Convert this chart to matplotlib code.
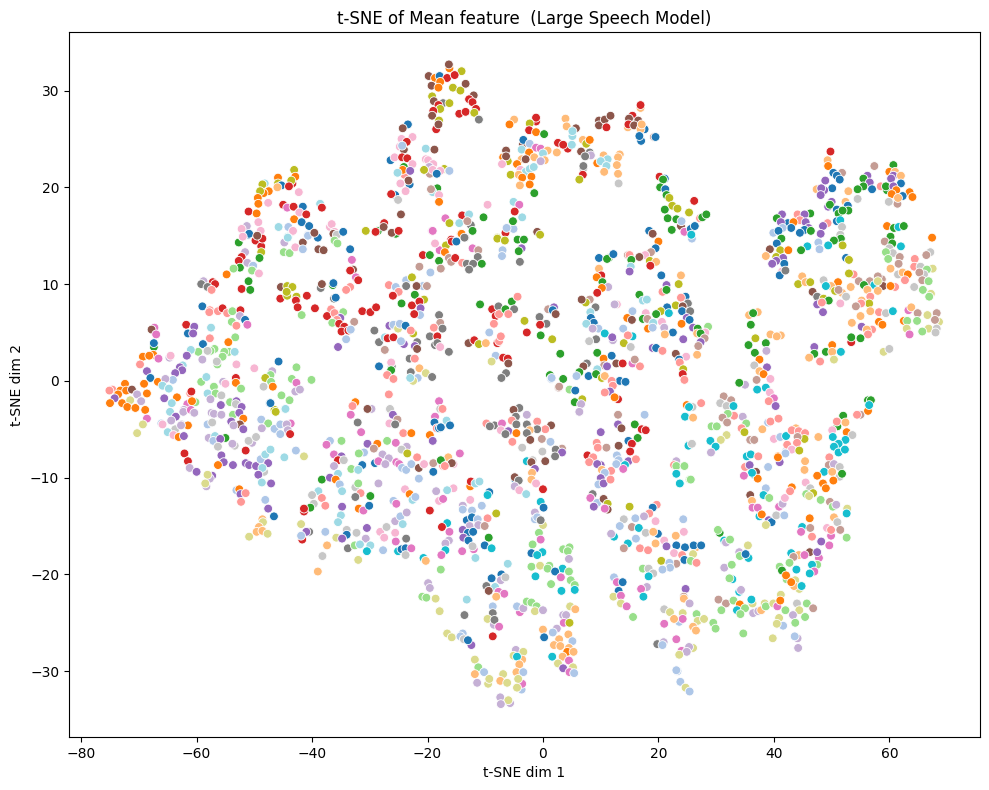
import numpy as np
import matplotlib
matplotlib.use("Agg")
import matplotlib.pyplot as plt

# each point: t-SNE dim 1, t-SNE dim 2, class index (tab20 order)
far_left = [
(-52.7,14.3,4),(-51.0,15.1,0),(-49.5,15.0,10),(-52,14.9,13),(-48.8,14.7,6),(-49.8,14.5,6),(-48.8,13.9,6),(-51.6,13.3,9),
(-48.8,13.3,16),(-52.2,12.8,6),(-52.7,12.4,6),(-49.1,12.7,4),(-51.2,12.2,9),(-50.2,11.9,1),(-52.5,11.7,4),(-53.6,11.6,5),
(-50.4,11.4,5),(-49.2,11.1,13),(-54.8,11.0,2),(-51,10.3,4),(-52.2,9.5,6),(-50.7,9.4,4),(-58.8,10.3,9),(-57.2,10.2,6),
(-56.8,10.0,6),(-59.2,10.0,14),(-58.1,9.7,14),(-57.4,9.4,7),(-59,7.7,0),(-57.7,7.3,7),(-57.8,7.1,7),(-56.3,7.2,7),
(-55.5,7.5,6),(-54.7,7.0,7),(-53.8,7.2,5),(-52.4,7.3,6),(-52.5,6.7,9),(-51.6,6.3,0),(-53.9,6.1,5),(-53.1,5.7,7),
(-51.2,5.8,12),(-57.5,5.5,19),(-61.8,5.8,6),(-60.4,5.6,8),(-61.5,4.9,0),(-60.6,4.9,8),(-67.3,5.5,12),(-67.8,5.3,10),
(-67,4.8,12),(-67.4,3.5,4),(-67.4,3.9,0),(-57.7,4.4,7),(-53.3,4.5,5),(-54.5,4.0,2),(-58.9,3.8,0),(-56.9,3.3,5),
(-57.6,3.1,5),(-58.1,3.1,15),(-59.7,3.0,5),(-61,3.2,19),(-61.7,2.6,8),(-59,2.2,9),(-54.4,3.0,5),(-55.2,3.0,5),
(-53.4,3,19),(-55.5,2.5,5),(-56.4,1.7,5),(-56.5,2.0,15),(-53.1,1.7,13),(-50,1.3,13),(-45.8,2.0,0),(-42.7,1.4,5),
(-67.5,2.7,2),(-69.3,2.5,2),(-68.2,2.6,2),(-66.6,2.3,12),(-64.7,2.4,9),(-64.5,2.6,13),(-69.8,1.7,7),(-68.6,1.0,8),
(-68,0.3,0),(-62.4,1.6,19),(-62.9,1.4,8),(-62.5,1.1,8),(-63.7,0.8,8),(-64.1,0.1,1),(-66.7,-0.1,2),(-65.4,0.2,9),
(-65.9,-0.5,19),(-64.8,-0.8,19),(-69.1,-0.3,2),(-72.4,-0.3,2),(-74.6,-0.9,7),(-75.1,-1,7),(-73.2,-1.0,2),(-72.2,-1,2),
(-71.2,-0.9,10),(-73.6,-1.4,2),(-74.2,-1.8,8),(-75,-2.3,2),(-72.9,-2.3,2),(-71.5,-2,17),(-72,-2.7,2),(-70.3,-1.4,9),
(-68.6,-1.3,2),(-70.6,-2.8,2),(-68.9,-3,2),(-69.6,-2.1,9),(-65.6,-1.8,8),(-63.4,-1.7,2),(-64.3,-2.3,19),(-61.1,-1.3,7),
(-60.9,-1.1,6),(-61.6,-2.4,12),(-60.2,-2.2,5),(-60.8,-2.1,2),(-62.2,-3,9),(-59.2,-0.1,5),(-58.3,0.4,19),(-57,-0.6,5),
(-55.4,-0.1,9),(-55,-0.3,13),(-53.2,0.3,6),(-53.2,-0.2,2),(-52.3,-0.8,5),(-58.1,-1.3,19),(-56.7,-1.3,5),(-55.7,-1.5,15),
(-57.6,-1.9,9),(-55.8,-2.5,8),(-54.2,-2.2,5),(-53.1,-2.1,8),(-53.2,-2.4,15),(-52.2,-2.7,8),(-46.9,1.0,9),(-47.2,0.6,5),
(-48.1,0.3,16),(-47.1,-0.1,5),(-48.4,-0.6,15),(-46.8,-0.6,2),(-43.5,0.2,5),(-42.7,-0.2,12),(-42.9,-1.1,9),(-42.1,-0.9,9),
(-45.3,-1.5,5),(-43.9,-2,5),(-47.3,-2.3,0),(-44.7,-2.9,19),(-46.5,-3,16),(-45.5,8.5,6),(-45.4,9.7,10),(-44.3,9.8,16),
(-43.4,9.7,16),(-44.3,8.8,16),(-44.4,9.2,16),(-42.7,8.7,16),(-42.8,8.3,6),(-42.5,7.6,6),(-40.9,8.8,6),(-41.8,6.8,5),
(-44.8,14.3,9),(-43.5,15.4,13),(-41.6,14.3,10),(-44.9,13.3,5),(-43.9,13.2,5),(-42.9,13.8,13),(-41.6,13.6,1),(-44.2,14.9,19),
(-40.7,15.1,1),(-68.6,-3.9,12),(-69.3,-4.5,17),(-70.3,-5.4,17),(-64.6,-3.2,19),(-63.6,-3.7,8),(-64.4,-4.1,9),(-66.1,-4.4,1),
(-65.9,-4.5,13),(-63.7,-5,15),(-62.6,-4.5,9),(-65,-5.3,19),(-64,-5.6,13),(-63.1,-5.8,2),
]

upper_mid = [
(-16.2,32.3,2),(-16.3,32.7,10),(-14.1,32.0,16),(-19.8,31.5,10),(-18.7,31.3,2),(-17.9,31.5,0),(-16.6,31.3,6),(-15.3,31.6,6),
(-17.8,30.9,2),(-19.3,30.5,10),(-18.1,30.3,2),(-15.6,30.3,16),(-14.3,30,16),(-13.4,30.7,10),(-19.2,29.4,16),(-12,29.5,10),
(-12.8,29.1,6),(-12.2,28.8,6),(-18.9,28.9,10),(-17.3,28.7,14),(-16.2,28.7,16),(-18.1,28.5,6),(-17.8,28.1,16),(-19,27.9,6),
(-11.6,28.1,6),(-14.5,27.6,6),(-13.4,27.8,6),(-11.9,27.7,16),(-19.2,27.4,10),(-11.1,27,14),(-18,26.9,16),(-18.5,26,6),
(-18.1,26.5,10),(-23.4,26.5,0),(-24.3,26.1,10),(-22.6,25.2,13),(-24.5,25,13),(-23.6,24.7,6),(-24.8,24.2,13),(-24.1,23.9,10),
(-24.4,24.3,1),(-26.4,22.8,0),(-25.7,23.1,13),(-24.4,23.1,6),(-23.5,23,6),(-22.6,22.4,13),(-24.1,22.1,4),(-24,21.3,7),
(-24.3,21.8,2),(-23,21.7,8),(-25.2,21.5,19),(-23.1,20.3,0),(-23.3,20.7,10),(-24.7,20.4,13),(-23.8,19.6,13),(-25.6,19.2,0),
(-26.3,19.3,6),(-25.1,18.7,15),(-24.6,17.2,10),(-20.3,24,19),(-18.8,23.9,10),(-20.3,22.9,13),(-19.9,22.8,13),(-19.6,21.4,11),
(-19,22.4,13),(-19.7,22.1,9),(-20.6,21.8,16),(-19.1,21.8,13),(-17.1,21.9,16),(-17.8,21.7,13),(-16.2,21.7,1),(-18.4,21.4,0),
(-18.3,19.9,4),(-19.1,19.5,19),(-19.4,19.8,11),(-18,19.2,13),(-18,18.5,2),(-9.6,18.2,13),(-10.3,16.9,4),(-14,17.1,6),
(-12.8,17.2,19),(-16.9,16.8,12),(-16.2,16.3,16),(-14.5,16.3,19),(-12.5,16.1,14),(-13.1,16.5,11),(-12.2,15.5,4),(-14.2,15.2,2),
(-19.2,15.5,12),(-7.9,14.8,16),(-15.9,14.6,6),(-13.5,14.8,14),(-30.7,15.5,16),(-28.6,15.5,4),(-29,15.4,6),(-27.5,16.3,6),
(-27.6,15.9,10),(-25.5,15.2,4),(-26.2,15.3,10),(-25,15.5,6),(-43.1,21.8,16),(-45.9,21,2),(-42.9,21.1,2),(-43.4,20.4,6),
(-43.6,20.7,16),(-45.9,20.4,16),(-45.3,20.2,0),(-46,20,3),(-44,20.1,6),(-48.2,20.4,19),(-48.6,20.3,16),(-47.5,19.6,2),
(-48.4,19.4,2),(-49,19.6,16),(-49.4,18.9,2),(-49.3,18.3,2),(-47.6,18.4,13),(-42.3,19.5,13),(-51,17.5,6),(-49.6,17.3,2),
(-45,18.2,6),(-44.3,17.9,12),(-43.2,18,6),(-41.6,18,0),(-38.6,18.3,19),(-38.3,17.9,6),(-42.2,17.4,13),(-41,17.2,6),
(-43.1,16.7,2),(-41.8,16.4,0),(-40.5,16,0),(-49.3,16.4,13),(-51.3,16,9),(-52.2,15.7,13),(-45.8,15.9,19),(-44.1,15.9,1),
(-43.3,15.5,13),(-48.9,15.5,13),(-50.9,15.2,0),(-48.6,14.7,6),(-49.5,15,10),(-52,14.9,13),(-44.2,14.8,19),(-40.7,15,1),
(-39,14.8,0),(-39.6,15.3,10),(-36.9,15.9,13),(-36.6,16.2,13),(-36.1,15.4,13),(-36.3,15.2,10),(-35.7,15.1,15),(-34.6,15.4,0),
]

center_up = [
(-38.9,13.6,10),(-38,13.5,10),(-36.1,14.5,5),(-35.6,14.2,5),(-33.4,13.6,0),(-33.1,12.5,12),(-32.9,11.5,10),(-33.4,11.4,6),
(-32.4,10.7,12),(-32,10.4,6),(-38.5,9.6,14),(-38.3,10,10),(-36.4,9.9,4),(-36.3,10.1,0),(-33.4,9.7,7),(-34.1,9.4,7),
(-36.2,8.5,14),(-35.9,8.6,0),(-39.5,7.5,6),(-36.7,7.4,7),(-37.4,6.7,6),(-34.6,7.1,5),(-31.3,7.2,6),(-29.9,7.1,6),
(-28.9,7.6,6),(-36.1,7.0,7),(-35.1,6.5,8),(-35.7,6.3,7),(-36.5,6,5),(-35.3,5.9,6),(-32.7,6.1,11),(-34.4,5.6,6),
(-34.9,5.1,6),(-33.7,5.2,6),(-33.3,5.3,1),(-34.1,4.3,1),(-35.5,3.5,8),(-40.1,0.1,5),(-29.2,5.2,14),(-28.4,4,14),
(-27.4,3.2,11),(-26.6,5.7,8),(-25.9,5.8,1),(-25.1,5.4,17),(-24.8,5.9,1),(-23.8,5.7,0),(-22.5,4.9,16),(-22.9,5.2,7),
(-27.4,4.5,19),(-26.9,4.4,6),(-25.9,4.5,6),(-24.1,3.8,8),(-24.6,4.1,1),(-21.8,4.0,14),(-22.2,3.6,8),(-21.8,3.3,10),
(-18,6.8,14),(-17.8,6,11),(-18.9,5.5,7),(-17.4,5.4,14),(-19.6,4.6,14),(-18.3,4.6,6),(-18.7,3.7,14),(-18.3,3.9,14),
(-17.8,3.5,13),(-16.3,3,14),(-23.1,2.3,14),(-22.2,2.3,7),(-28.4,1.5,0),(-26.2,1.5,14),(-26.3,1.9,13),(-26.3,1.1,4),
(-27,0.6,7),(-25.9,0.2,7),(-22.9,0.9,14),(-21.4,1.3,3),(-20.3,0.8,17),(-19.2,0.4,14),(-21.7,0.3,1),(-22.5,0,17),
(-23,0.3,19),(-26.7,-1.4,7),(-32.5,-2.2,2),(-33,-2.6,7),(-29.7,-2.9,9),(-30.4,-2.9,10),(-26.5,-3,15),(-18,-2.1,12),
(-17.8,-2.9,15),(-17.4,-2.9,7),(-4.1,-2.8,14),(-5.1,-3,10),(-26.7,9.9,7),(-25.5,9.7,1),(-23.7,10.4,1),(-22.7,10.7,16),
(-23.7,9.8,14),(-20.8,9.8,1),(-21.9,9.8,10),(-20.1,9.8,11),(-25,9.2,7),(-26,8.8,6),(-22.2,8.9,4),(-24.5,8,4),
(-22.7,7.8,6),(-20.6,8.4,16),(-21.4,8.2,6),(-21.2,7.5,8),(-21.3,6.8,1),(-22.3,6.9,6),(-21.4,11.8,11),(-19.5,11.2,1),
(-20.8,13,6),(-19.6,13,4),(-18,12.4,4),(-17.7,11.6,11),(-17.9,13.5,12),(-18.7,14.2,13),(-19.1,15.5,12),(-16.8,14,16),
(-17,13.3,2),(-16.3,12.7,11),(-15.9,12.3,11),(-15.2,12.7,6),(-15.8,14.4,6),(-15,14.4,0),(-14.1,15.2,2),(-13.6,14.8,14),
(-12.2,13.7,12),(-11.2,13.5,11),(-11.3,12.8,14),(-14,12.2,7),(-13.2,12.1,14),(-12.1,12.1,14),(-10.6,12.1,4),(-12.8,11.5,14),
(-6.2,15.8,1),(-5.1,15.7,1),(-6.5,15.3,6),(-7.9,14.7,16),(-6.6,14.5,16),(-4.4,14.6,4),(-3.3,14.6,4),(-3.7,13.7,8),
(-4.2,13.4,4),(-7,13.5,1),(-7.1,12.9,1),(-4,12.3,14),(-1,15.4,10),(-0.5,15.1,16),(-10.9,7.9,4),(-8.8,7.4,6),
(-7.7,7.7,14),(-8.2,6.7,6),(-7.6,6.9,7),(-6.5,7.4,4),(-5.4,8.2,4),(-4.4,8.7,7),(-5,7.4,14),(-6,6.9,7),
(-8.5,5.9,7),(-9.3,5,1),(-7.9,3.9,6),(-7.6,4.1,7),(-7.3,4.6,7),(-12.9,3.9,10),(-11.9,4.2,6),(-11.1,3.8,16),
(-9.9,3.9,3),(-8.2,2.6,1),(-6.9,2.4,6),(-8.9,2,17),(-6.1,2.3,6),(-6,1.8,10),(-6.4,0.8,14),(-7.2,0.3,14),
(-3.2,6.2,16),(-2.8,5,6),(-0.6,6.6,14),(0.6,5.9,14),(-0.5,5.8,6),(-0.4,4.7,4),(1.6,4.3,16),(0.9,7.4,11),
(1.9,7.6,8),(1.7,7.3,0),(2.2,6.9,10),(1.2,0.6,4),(1.4,0.2,1),(2.7,-0.7,11),(3.0,2.8,4),
]

lower_left = [
(-62.3,-3.2,9),(-61,-3,12),(-60.4,-3.3,9),(-61.5,-4.6,2),(-62.7,-4.6,9),(-62.2,-5.7,8),(-57.4,-3.3,9),(-57,-3.4,9),
(-55.7,-3.5,9),(-53.7,-3.5,5),(-52.6,-3.3,8),(-51.9,-3.9,2),(-54,-4.2,8),(-58.1,-4.5,1),(-57.3,-4.3,15),(-52.5,-4.5,10),
(-53.6,-4.6,9),(-51.9,-5,8),(-48.8,-4,1),(-47.6,-4.4,5),(-48.7,-4.9,9),(-46.5,-4.96,1),(-45.5,-4.5,1),(-43.7,-4.4,12),
(-44.4,-4.5,9),(-44.2,-5.1,9),(-43.8,-5.5,6),(-45.5,-5.5,1),(-47.2,-2.3,0),(-46.3,-3.2,16),(-44.6,-2.9,19),(-57.9,-5.9,9),
(-56.8,-5.7,19),(-57.1,-6.2,1),(-55,-5.9,4),(-55.9,-6,8),(-56.3,-6.8,15),(-53.4,-6.7,15),(-53.8,-6.5,9),(-50.4,-6.4,9),
(-51,-6.2,15),(-49.7,-5.8,15),(-51.5,-7.2,6),(-62.1,-7.5,6),(-61.5,-8.3,6),(-61.2,-9,9),(-60,-9.4,8),(-55.7,-7.7,8),
(-55.3,-8.4,8),(-56.3,-8.7,2),(-53.7,-8.7,8),(-51.5,-8.5,8),(-50.9,-8.7,8),(-49.7,-8.8,8),(-48.9,-8.1,1),(-48.1,-7.6,19),
(-47.2,-7.1,19),(-47.6,-8.5,8),(-48.3,-9.4,15),(-48.6,-9,19),(-49.3,-9.7,8),(-48.7,-10.5,19),(-47.1,-10.6,8),(-44.8,-7.9,19),
(-42.8,-7.2,1),(-41.4,-7.8,17),(-57.3,-9.8,8),(-57.7,-10.1,9),(-58.1,-9.7,17),(-58.3,-10.9,9),(-58.5,-10.6,17),(-53.1,-11.3,1),
(-52.6,-11.2,2),(-52.4,-11.7,8),(-51.5,-11.6,7),(-52.3,-12.5,7),(-48.1,-12.3,1),(-47.6,-13.2,8),(-46.6,-14,0),(-48.6,-14.3,3),
(-48.5,-14.6,17),(-49.2,-15.1,3),(-49.6,-15.6,3),(-48.6,-15.5,3),(-47.7,-15.8,17),(-50.9,-16.1,17),(-33.3,-3.5,12),(-32.1,-4.3,14),
(-31.5,-5.3,12),(-26.5,-2.9,15),(-26,-3.5,8),(-25.2,-4,11),(-26.6,-4.4,13),(-25.6,-4.5,14),(-24.2,-5.4,7),(-22.8,-5.4,2),
(-36.9,-6.2,1),(-37.5,-6.6,12),(-34.9,-6.2,5),(-30.4,-6.5,8),(-28.7,-6.5,2),(-27,-6.2,5),(-29.3,-7,11),(-25.5,-6.4,12),
(-23.6,-6.8,9),(-24.5,-7.1,15),(-23.5,-7.5,16),(-31,-7.4,1),(-31.9,-7.5,5),(-36.2,-7.6,12),(-34.9,-7.8,8),(-35.5,-8.2,6),
(-34.5,-8.2,15),(-36.2,-8.8,9),(-31.3,-8.7,0),(-33.2,-9.1,5),(-32,-9.2,19),(-35.5,-9.6,19),(-38.3,-10.2,4),(-36.9,-10,8),
(-35.9,-10.2,2),(-35.2,-10.7,1),(-32.5,-11,15),(-32,-10.6,5),(-34.8,-11.4,19),(-28.5,-10.6,9),(-38.9,-11.4,19),(-40,-11.8,15),
(-31.6,-11.6,7),(-32.5,-12,14),(-29.9,-11.9,4),(-38.3,-12.1,7),(-39.7,-12.7,15),(-37.7,-12.9,7),(-40.3,-13.1,4),(-41.4,-13.5,6),
(-41.4,-13.2,6),(-34.8,-13,8),(-31.9,-13.2,2),(-31.1,-13.4,12),(-30.1,-12.9,0),(-35,-13.9,19),(-35.5,-14.6,19),(-41.9,-14.8,17),
(-40.5,-15.6,14),(-41,-15.6,8),(-41.7,-16.4,6),(-41.9,-16,1),(-37.7,-15.6,1),(-37.4,-17,3),(-38.2,-18.1,15),(-39,-19.7,3),
(-34,-15.4,15),(-35.8,-16.2,17),(-34,-15.9,0),(-34.8,-16.3,8),(-32.3,-15.7,15),(-30.5,-15.2,8),(-30.7,-16.3,9),(-33.8,-17.3,14),
(-32.6,-17,5),(-31.7,-16.9,19),(-29.9,-17,19),(-30.5,-17.6,18),(-32,-18.5,17),(-28.2,-15.6,13),(-27.5,-16.2,13),(-27.7,-17.5,1),
(-27.1,-15.1,15),(-25.6,-14.5,9),(-24.7,-14,1),(-23.6,-13.6,9),(-24.3,-14.8,19),(-25.6,-15.7,13),(-25.5,-16.6,12),(-23.7,-16.3,14),
(-25.1,-17.6,18),(-24.5,-17.4,0),(-23.8,-17.3,0),(-22.8,-17.3,12),(-23.8,-18,15),(-29.1,-8.5,0),(-27.8,-7.6,9),(-26.7,-8,9),
(-28.5,-8.3,12),(-27.3,-8.6,9),(-25.4,-8.4,12),(-24.9,-8.6,12),(-24.4,-9,1),(-23.7,-9.2,1),(-22.8,-8.6,1),(-21.8,-7.9,7),
(-21.5,-9,10),(-21.5,-10.1,1),(-23.9,-11.2,13),(-23.1,-11.7,2),(-22.6,-12.3,19),(-22.1,-12,1),(-25.9,-12.4,1),(-25.4,-12.7,12),
(-18.7,-3.7,12),(-18.8,-4.3,0),(-18.4,-4.9,7),(-18,-4.9,0),(-19.6,-5.6,2),(-19.1,-6.2,8),(-19,-8.5,11),(-19,-9.4,0),
(-17.3,-8.8,7),(-20.6,-8.6,13),(-18.5,-11.4,9),(-18,-12.4,13),(-19.6,-13.4,6),(-20.7,-18.3,18),(-20.3,-18.6,3),
]

lower_mid = [
(-16.7,-4.1,19),(-16.1,-4.6,0),(-17.7,-4.8,0),(-2.8,-3.5,9),(-4.7,-3.7,14),(-5.4,-4.1,7),(-9.8,-4.4,7),(-8.4,-4.6,14),
(-9.2,-4.7,14),(-7.1,-4.4,12),(-4.6,-4.5,14),(-2.8,-4.5,14),(-1,-4.2,7),(1.4,-4.6,10),(0.4,-5,7),(-1,-5,14),
(-7.3,-5.1,13),(-6,-5.2,8),(-6.5,-5.5,14),(-4.6,-5.4,2),(-2.3,-5.1,3),(-2.8,-5.4,14),(-5.3,-6.3,7),(-2.2,-6.1,10),
(-0.2,-6,11),(1.3,-6.3,1),(-3.6,-6.9,15),(-0.1,-7.3,15),(3.3,-7,11),(2.2,-7.1,14),(3.3,-7.4,8),(2.1,-7.8,14),
(0.4,-8.3,10),(-2.8,-8.3,18),(-1.8,-8.2,15),(-2,-8.4,10),(-1.4,-9.1,8),(-1.9,-9.5,3),(-2,-10.2,3),(-4.8,-10.2,0),
(-4.9,-9.95,10),(-4.2,-10.3,14),(-4.9,-10.9,9),(-4.1,-11.3,13),(-1.2,-10.6,13),(-2.9,-11.7,19),(0,-11.2,6),(-0.4,-12.5,18),
(0.1,-13.1,0),(-1.4,-13.6,9),(-1.4,-14.3,1),(-1,-14.1,1),(0,-14.9,17),(-0.4,-14.4,14),(-0.7,-15.7,5),(-0.4,-16.4,12),
(-1.8,-16.9,5),(-2,-17.8,0),(-0.1,-17.7,18),(-1,-18,18),(-14.4,-7.5,12),(-16.4,-7.9,3),(-17.7,-8.2,4),(-15.5,-8.6,13),
(-15.8,-8.5,10),(-17,-8.8,7),(-12.6,-10.9,2),(-12.5,-10.4,6),(-11.7,-10.6,19),(-11,-10.4,19),(-9.3,-11.5,0),(-9.6,-11.8,18),
(-15.5,-11.1,13),(-16.6,-11.3,19),(-17.3,-12.2,12),(-12.6,-12.3,13),(-13.9,-12.9,9),(-13.9,-13.3,1),(-10.6,-12.9,1),(-12.3,-13.4,1),
(-8.1,-13.7,16),(-13.2,-14.4,0),(-12.3,-14.1,0),(-11.3,-14.3,1),(-9.6,-14.2,7),(-12.7,-15,9),(-11.2,-14.9,9),(-10.1,-15,11),
(-13.9,-15.4,8),(-13,-15.7,0),(-12.1,-15.6,0),(-13.8,-16.2,8),(-12.9,-16.5,0),(-9.4,-16.2,4),(-10.1,-17,0),(-8.9,-17.3,18),
(-12,-17.4,12),(-12.2,-17.1,15),(-14,-17.6,12),(-11.7,-18.3,19),(-16.6,-14.7,18),(-17.5,-15.1,6),(-16.2,-15.6,12),(-16.3,-16.5,9),
(-16.9,-16.8,9),(-16.9,-17.5,18),(-17.6,-18,12),(-17.7,-19.5,5),(-6.1,-18.9,19),(-7.2,-20,0),(-8.9,-20.4,0),(-7.3,-20.6,9),
(-6.5,-20.3,15),(-9.8,-21.2,14),(-8.3,-21.3,19),(-9.4,-21.7,10),(-7.7,-21.8,12),(-6.7,-22,12),(-8.1,-22.3,3),(-13.2,-22.6,19),
(3.5,-17.4,5),(4.6,-17.2,5),(4.3,-17.6,5),(4.5,-18.4,9),(-2,-19.2,5),(-0.5,-19.1,17),(1.1,-19.1,5),(0.8,-19.4,5),
(3.4,-19.4,18),(2.1,-19.7,0),(4.5,-19.7,5),(3.1,-20.3,12),(-1.3,-20.2,18),(1.4,-21,5),(4.8,-20.6,5),(5.5,-21.1,5),
(3.2,-21.7,18),(5.5,-21.6,18),(13,-3.5,11),(17.6,-3.5,1),(5.5,-2.2,4),(6.6,-2.4,9),(6.3,-3.2,9),(10,-5.3,8),
(13,-4.5,8),(13.6,-4.9,10),(15.9,-4.5,4),(17.1,-5,6),(17.8,-5.1,6),(16.4,-5.9,4),(14.8,-6.2,0),(15.4,-6.5,6),
(15.1,-7.3,6),(13.1,-6.7,10),(9.3,-6.4,7),(9.5,-6.9,7),(11,-6.9,11),(7.7,-7.7,6),(8.7,-7.9,7),(8,-8.4,7),
(12.8,-7.7,1),(13.1,-8.2,1),(14.8,-8.3,8),(16.1,-8.1,7),(12.7,-8.6,1),(10,-8.7,8),(9.4,-8.6,8),(14.2,-8.7,18),
(13.9,-9.1,12),(11.8,-9.3,7),(10.2,-9.2,3),(10.7,-9.5,1),(10,-10.05,8),(9.6,-10.7,1),(10.5,-10.6,8),(11.7,-10.2,7),
(8.6,-11.7,14),(8.2,-12.1,12),(9.4,-12.6,1),(8.8,-13,8),(10.5,-12.2,10),(11.2,-12.7,16),(11.2,-13.3,10),(10.7,-13.2,12),
(15,-13,16),(14,-14.3,15),(19.7,-12.8,7),(19,-13.1,0),(18.4,-13.7,7),(17.5,-14,9),(16,-14.2,1),(19.5,-14.5,13),
(13.3,-15,1),(15.4,-15.1,11),(16.6,-15.2,18),(17.8,-15.7,15),(19.9,-15.8,0),(19.1,-15.6,3),(24.3,-14.3,1),(24.4,-15.6,13),
(23,-16,3),(12.3,-16.1,18),(11.8,-15.8,9),(16.1,-16.3,1),(21,-16.5,13),(19.5,-16.8,3),(21.4,-17.1,8),(23.1,-17,0),
(24.6,-17.2,0),(14.7,-16.8,18),(14,-17.3,11),(16.8,-17.3,7),(18.2,-17.5,7),(22.7,-17.8,13),(24.1,-18,7),(20.5,-18.6,16),
(24.5,-18.5,0),(23.1,-18.9,11),(21.9,-18.8,1),(22,-19.3,1),(20.7,-19.5,1),(17.3,-19.4,5),(18.3,-19.4,15),(19.1,-19.9,15),
(18.3,-20.2,18),(18,-21.3,9),(17,-21.5,12),(17.4,-22.3,18),(12.3,-20.3,1),(12.8,-20.8,12),(13.8,-20.8,0),(13.1,-21.7,0),
(12.2,-22.3,17),(24.7,-21.5,8),(24.4,-22.3,11),(23.1,-8.3,9),(22.7,-8.7,7),(23.1,-8.8,5),(24.5,-8.8,5),(23.1,-9.6,18),
(23.7,-10.6,18),(25.4,-10.2,5),(24.7,-3.7,18),(25.2,-6.6,15),
]

bottom = [
(-19.9,-20.9,9),(-19.6,-21.4,9),(-20.9,-22.3,5),(-20.2,-22.4,5),(-18.6,-22.5,17),(-17.9,-23.8,17),(-13.6,-24.2,14),(-8.7,-23.3,1),
(-8.7,-24,14),(-9.6,-24.6,17),(-8.5,-25.2,9),(-8.4,-24.7,14),(-7.6,-25.4,12),(-8.7,-26.4,6),(-16.6,-26.1,17),(-15.8,-26.5,17),
(-13.9,-26.1,1),(-14.3,-26.4,1),(-13.7,-26.7,15),(-12.4,-27.3,8),(-13,-26.8,0),(-4.7,-27.8,9),(-3.4,-28,17),(-5.1,-28.4,17),
(-3.6,-28.8,3),(-4.5,-28.5,18),(-4.1,-29.3,3),(-11.8,-28.8,17),(-11.2,-29.6,5),(-11.8,-30.3,3),(-10.2,-30.1,1),(-11.4,-31.2,9),
(-9.5,-31.3,17),(-9.3,-30.8,17),(-6.9,-30.3,17),(-7.4,-31,3),(-6.2,-31.2,17),(-4.6,-30.1,3),(-3.4,-30.1,1),(-3.7,-31.9,1),
(-3.6,-31.3,12),(-4.3,-30.8,17),(-4.5,-31.7,17),(-7.4,-32.7,9),(-5.7,-33.3,9),(-6,-33,17),(-7.3,-33.4,9),(-4,-23.9,12),
(-4.5,-23.3,1),(-3.4,-23.5,9),(-2.8,-22.8,5),(-2,-22.9,5),(-1.1,-23.3,5),(-1.4,-23.8,17),(-0,-23.7,9),(4.7,-23.3,17),
(5.6,-23.6,3),(3.5,-24.2,9),(4,-24.2,9),(3.6,-25,12),(4.6,-25,16),(0,-25.7,3),(2.4,-25.6,9),(1.7,-26,1),
(0.2,-26.5,0),(4.4,-26.2,3),(2.8,-26.7,3),(5.1,-26.9,1),(1.9,-27.3,3),(3,-27.4,3),(4.5,-27.6,3),(4.2,-28,2),
(5.3,-28,3),(3.4,-28.5,3),(1.6,-28.5,18),(4.5,-28.9,12),(2.6,-29.2,17),(3.5,-29.7,8),(5.2,-29.6,17),(4.6,-30.1,12),
(5.4,-30.2,1),(13.5,-22.2,12),(13.5,-23,17),(14.5,-23.3,12),(15.6,-24.4,5),(24.4,-22.5,3),(25.4,-23,9),(21,-23.6,15),
(22,-23.9,17),(24.2,-24,17),(23.6,-24.9,1),(24.2,-24.6,12),(22.7,-24.6,3),(21,-25.1,12),(26.6,-24.1,5),(26.8,-24.8,17),
(27.9,-24.6,17),(26,-25.4,3),(26.5,-25.8,3),(23.1,-26.7,12),(19.8,-27.2,14),(20.9,-27,9),(20.7,-27.3,1),(26,-27.6,17),
(25.3,-27.5,9),(24,-27.9,12),(24.9,-28,9),(23.6,-28.3,17),(23.3,-30,1),(23.1,-29.9,1),(23.8,-31.1,1),(24.7,-31.7,17),
(25.4,-32.1,1),(29.5,-25,5),(29.9,-25.6,5),
]

upper_right_mid = [
(16.9,28.2,3),(16.9,28.5,6),(-5,27.0,3),(-5.8,26.5,2),(-1.2,26.8,6),(-1.2,27.2,6),(-2.3,26.6,16),(-2.4,25.9,6),
(-1.2,25.7,2),(0.2,25.5,4),(-3.5,24.4,10),(-3.4,24.9,0),(-2.3,24.5,1),(-1.2,24.1,12),(-0.4,24,12),(0.8,23.8,3),
(-3.7,23.9,19),(-2.4,23.6,2),(0,23.5,19),(2.4,23.6,3),(-6.4,23.8,10),(-6.9,23.1,2),(-6.1,22.7,16),(-6.4,23.2,10),
(-7.1,22.4,13),(-3.7,22.9,3),(-3,22.9,10),(-1.5,23.1,3),(0.3,22.8,3),(-0.4,22.7,9),(-4.5,22.4,2),(-3.9,21.8,13),
(-3,21.6,19),(-2.3,21.9,19),(-1.6,22.1,19),(-5.6,21.3,16),(-4.2,21.3,3),(-3.6,21,2),(-2,21.1,2),(-4,20.2,3),
(-2.3,20.3,2),(-1.5,19.4,4),(3.9,27.1,3),(4.1,26.3,3),(5.7,26.1,10),(5.1,25.3,19),(5.1,25.8,19),(2.6,24.6,6),
(4.3,24,6),(3.5,24.4,6),(5,24.4,19),(6.9,24.9,3),(7.5,24.5,16),(8.1,24.9,2),(6.6,23.7,10),(8.1,23.6,14),
(8.3,23.3,9),(7.3,23.2,14),(10.5,23.3,3),(11.2,22.9,19),(9.4,22.5,2),(10,22.7,19),(11,22.2,19),(7,22,14),
(7,22.2,14),(6.9,21.3,6),(6.3,20.8,16),(10.6,21.6,3),(13.3,23.4,3),(13,23.1,3),(12.8,22.3,3),(13,21.4,3),
(13.1,20.4,15),(9.7,26.9,10),(9.7,26.4,10),(10.7,27,10),(11.7,27.4,10),(11,26.2,6),(15.5,27.4,6),(14.9,27.1,10),
(16.5,26.9,10),(14.7,26.2,3),(14.8,26.5,6),(15.8,26.4,10),(17.6,26,0),(16.9,26,3),(17.1,26.5,3),(17,24.8,0),
(16.7,25.3,0),(19.2,25.2,11),(19.5,25.2,0),(20.2,21.1,6),(21.1,20.9,0),(20.8,20.8,4),(20.3,20,4),(21.2,19.8,0),
(21.4,19.2,4),(21.9,18.9,16),(22.4,18.1,16),(23.3,17.8,16),(21.1,17.7,4),(25.3,17.4,16),(26.2,18.6,6),(21.6,16.8,4),
(23.1,16.7,4),(23.9,16,10),(24,16.5,1),(22.3,15.6,4),(24.5,15.4,12),(25.6,15.7,0),(26.3,16,0),(25.8,14.7,1),
(25.7,15.1,18),(27.2,16.8,7),(27.6,16.9,4),(28.3,17.2,4),(-5.1,18.5,19),(-4.1,18.2,12),(-4.9,17.5,6),(-3.6,16.9,19),
(-5.2,16.5,4),(-6.3,15.8,1),(18.4,15.5,0),(19,15.2,10),(20,14.4,2),(19.5,13.7,0),(18.5,13.2,9),(18.7,13.3,11),
(17.7,13,13),(16.7,12.8,10),(14.7,13,11),(15,13,7),(15.3,12.5,4),(15.2,11.8,19),(15,11.3,8),(18.5,12.4,16),
(19.6,12.3,3),(18.6,11.9,6),(9.7,12.7,0),(11.4,12.7,4),(11.1,12.6,4),(12.2,13.1,0),(9.7,11.6,3),(10.1,10.9,6),
(9.3,10.7,2),(20.5,10.9,0),(23.9,10.9,3),(10.3,10.2,4),(11.3,9.7,9),(10.2,9.6,2),(9.4,9.1,6),(8.1,8.4,11),
(7.4,8.1,16),(6.7,8.4,10),(9.1,7.6,14),(12.8,7.9,13),(12.4,7.9,9),(8.2,7.1,19),(8.3,6.5,0),(8.8,6,0),
(7.5,5.9,19),(9.6,5.4,1),(8.6,5.4,9),(10.7,4.9,18),(12.1,4.2,9),(12,4.5,8),(9.2,4.3,14),(8,4.1,15),
]

mid_right = [
(9.4,2.9,4),(10.5,2.3,2),(11.9,2.6,0),(7.6,1.8,14),(7,1.5,10),(10.6,1.6,11),(11.1,1.5,8),(12.7,1.8,10),
(13.8,1.8,6),(15.5,1.8,12),(15.9,2.2,11),(16.8,1.5,7),(9.4,1.2,19),(6.3,0.9,4),(5.8,0.5,1),(7.9,0.5,0),
(9.2,0.7,4),(10.2,0.3,16),(10.7,0.5,3),(1.5,0.3,1),(3.5,0.2,4),(2.8,-0.6,11),(4.6,-0.9,5),(5.6,-1,0),
(6.8,-1.9,16),(5.5,-2.2,4),(6.6,-2.4,9),(6.3,-3.2,9),(13.3,0,0),(14.3,-0.1,0),(11.9,0,7),(12.1,-0.5,7),
(11.6,-1.1,8),(10.7,-1.2,7),(13,-1.9,6),(12.4,-1.7,2),(16.7,8.9,4),(17.3,8.3,19),(18,8.4,19),(23.5,10,16),
(21.4,9.9,8),(20.7,9.2,7),(21.4,9.4,4),(24.7,8.7,0),(23.9,8.6,7),(23,7.8,16),(21.5,7.6,0),(25.1,8,14),
(24.2,7.7,10),(24.1,7.2,0),(25.5,7.2,14),(20.4,7.2,16),(19.6,6.9,4),(21.8,7,18),(17.8,7,13),(15.5,7.2,1),
(14.6,6.5,2),(15.4,6.3,10),(17.3,6.4,4),(18.1,6.4,11),(20.6,6.1,13),(19.1,6,19),(24.9,6.5,8),(25.4,6.3,0),
(21,5.5,9),(18.2,5.4,2),(19,5.5,1),(13.9,5.4,1),(24,5.9,2),(22.5,5,0),(21.1,4.8,3),(15.5,4.6,18),
(14.7,4.7,7),(14,3.9,16),(15.2,3.5,15),(19,3.4,8),(19.6,3.4,0),(20.7,3.1,7),(24.3,4.3,8),(26,5.5,8),
(26.8,5.4,4),(28.6,5.6,5),(28.1,5,13),(26.7,4.9,3),(27.3,4.9,4),(28,4.4,11),(27.3,4,8),(26.9,3.6,11),
(26.7,2.7,3),(23,2.8,10),(24.8,2.5,13),(23.6,2.2,0),(23.7,1.9,7),(24.3,1.2,16),(24.2,0.7,6),(24.5,0.1,7),
(35.7,6.8,3),(37.2,7.1,3),(36.4,7,4),(36,5.8,4),(39.4,4.8,3),(41.2,4.7,3),(40.5,4.6,3),(36.8,4.4,16),
(35.6,3.7,4),(38.6,3.9,4),(38.7,3.1,9),(36.7,2.9,4),(37.5,2.2,2),(36.6,1.6,15),(38.8,1.4,8),(37.5,1,3),
(38.2,0.7,2),(39.4,0.2,13),(37,0.1,11),(35,-0.4,9),(34,-0.2,4),(38.6,-0.7,18),(37.1,-0.9,18),(39.3,-1.2,13),
(40,-1.8,12),(39.1,-2.1,7),(40.3,-2.6,8),(27.4,-2.3,7),(24.9,-2.5,2),(25.9,-2.7,15),(25.3,-2.7,18),(24.6,-3.7,18),
(26,-3.8,3),(31.3,-1.6,11),(32.6,-2,11),(30.7,-2.3,15),(31.8,-2.6,15),(33,-2.6,18),(33.1,-3.6,7),(32,-3.4,5),
(31.1,-3.8,11),(34.6,-3.7,9),(31.9,-4.3,11),(35.2,-4.4,5),(29.2,-4.7,5),(30.1,-4.7,5),(34.4,-4.9,7),(34.9,-5.3,16),
(38,-5,3),(39,-4.3,1),(39.4,-4.2,7),(40.8,-3.9,7),(40,-6,13),(41.1,-5.8,1),(42.1,-5.7,18),(29,-6.2,18),
(31.8,-5.6,17),(30.8,-6.1,17),(29.9,-6.8,18),(29.1,-7.4,9),(35.9,-6.1,11),(36.6,-6.1,11),(25.2,-6.7,18),(25.8,-6.5,15),
(35.3,-7.8,18),(36,-7.6,18),(37.3,-7.8,7),(42.1,-7.3,1),(40.7,-7.8,2),
]

lower_right = [
(43.8,-4.9,3),(43.1,-5.1,7),(44.3,-5.2,7),(45.4,-5.4,7),(45.3,-6,16),(44.1,-5.8,11),(44,-6.4,7),(42.3,-6.6,7),
(43.1,-7.1,13),(44.4,-7.2,16),(42,-7.5,1),(41,-8.4,8),(40.7,-7.9,2),(39,-8.9,1),(45.4,-8.3,3),(45.3,-9.2,3),
(47.7,-5.8,3),(52,-3.6,4),(51,-4.7,4),(50.9,-4.2,7),(52.4,-4.3,3),(52.6,-5.3,2),(50.1,-5.1,13),(53.6,-5.6,15),
(50.2,-5.8,18),(52.4,-6.1,18),(51.2,-6.5,18),(50.4,-6.8,18),(51.2,-7.4,18),(52.3,-7.1,18),(55,-3.5,11),(54.4,-3.5,7),
(56.3,-3.1,2),(56.3,-2,4),(56.8,-2,4),(56.5,-2.5,18),(49.6,-7.9,7),(49.5,-8.7,11),(50.4,-8.6,9),(48.7,-9.4,18),
(51.4,-8.9,15),(51.4,-9.9,15),(51.8,-9.6,4),(50.1,-9.4,3),(47.5,-9.8,2),(48.5,-10.6,2),(50.3,-10.3,2),(49,-11.1,2),
(45.5,-10.5,13),(46.3,-11.1,15),(46.8,-11.6,16),(45.6,-11.7,5),(46.1,-11.9,17),(48.1,-12.3,5),(49.7,-12.5,11),(50.2,-13,5),
(50.8,-12.8,9),(52.7,-13.2,17),(52.6,-13.7,18),(46.2,-14.2,2),(50.4,-14.1,3),(51,-14.6,15),(44.9,-15.1,18),(46.3,-15.2,11),
(44.7,-15.6,12),(46.6,-16.1,7),(49.2,-15.2,13),(49.9,-16,12),(49.9,-15.4,7),(51.5,-15.4,11),(52.6,-16.2,5),(48.2,-16.6,8),
(49.6,-17,12),(35,-8.9,7),(35.8,-8.7,8),(36.6,-9.7,18),(36.9,-9.4,10),(37.2,-10.1,2),(36.2,-9.5,18),(34.8,-9.8,12),
(38.6,-11.1,1),(38.2,-11.8,18),(35.9,-11.8,10),(39.2,-12.1,5),(36.2,-12.4,3),(36.3,-13.1,12),(37.2,-13.1,12),(37.5,-14,18),
(37.9,-13.8,2),(39.1,-14.4,8),(39.6,-14.6,0),(38.6,-14.9,17),(40.4,-13.9,15),(41.8,-13.9,1),(40.9,-13,12),(41.5,-12.7,9),
(41.9,-12.1,13),(43.1,-11,2),(42.8,-11.4,7),(25.6,-10.2,5),(30.6,-15.7,4),(30.3,-15.4,5),(31.4,-16.5,18),(31.7,-16.7,9),
(32.4,-16.4,5),(35.6,-18.3,18),(35.5,-17,17),(34,-17.7,9),(34.1,-18.1,5),(35.1,-17.9,0),(31.4,-19.3,9),(32.7,-19,5),
(32.8,-20.5,18),(32.3,-20.4,5),(26.5,-17.2,3),(26.1,-17,0),(27.4,-17,0),(26,-17.9,17),(25.6,-18.6,5),(26.6,-18.8,7),
(34,-21.8,18),(34.3,-21.6,9),(30.4,-22.6,11),(31.7,-23,11),(33,-22.7,5),(34.1,-23.1,2),(33.6,-23.7,18),(35,-23.5,5),
(36.3,-23,17),(36.1,-22.6,18),(30.9,-23.7,5),(34.2,-24.1,5),(36.4,-24,9),(37.3,-23.8,9),(37.8,-23.7,3),(38.4,-23,17),
(38.6,-23.3,5),(39.9,-23,17),(41.2,-22.1,17),(40.6,-23.3,12),(41.1,-22.7,2),(42,-23.7,5),(44,-23,15),(44.4,-23.7,17),
(43.3,-24.2,9),(45.7,-23,5),(46.8,-23.5,11),(45.4,-24.4,5),(40.9,-24.5,17),(43.7,-25,5),(41.6,-25.3,1),(40.5,-25.1,17),
(34.7,-26.1,5),(44.1,-26.6,9),(43.6,-26.4,1),(39.8,-26.6,17),(44.2,-27.6,9),(43,-17.8,18),(44.3,-18,3),(43.4,-18.2,11),
(46.2,-17.7,10),(45.3,-18,12),(47.8,-18.3,12),(47.5,-17.7,8),(47.5,-19,5),(46.6,-19,18),(42.7,-18.8,5),(43.9,-19.5,18),
(41,-19.2,5),(41.4,-19.6,4),(47,-19.7,12),(46.2,-19.9,18),(42.2,-20.5,5),(42.1,-20.1,2),(43.7,-20.6,17),(44.4,-21.5,17),
(43.5,-21.2,3),(43,-20.8,2),(44.8,-21.2,18),
]

upper_right = [
(49.8,23.7,6),(49.3,22.8,3),(49.4,22.2,2),(51.8,21.5,11),(50.3,21.5,0),(50.9,21.2,0),(51.4,20.8,0),(48.9,20.7,8),
(50.1,19.9,0),(47.4,19.8,3),(48.7,19.7,8),(48.2,19.9,8),(48.1,19.2,8),(52.9,19.6,3),(57.4,22.2,11),(60.7,22.3,4),
(60,21.6,2),(61,21.6,3),(60.7,21.2,8),(62,21.2,3),(60.3,20.9,8),(56.2,21.2,8),(55.5,20.9,4),(56.6,20.5,8),
(62,20.4,0),(55.5,20.1,4),(54.5,19.8,4),(57,19.8,0),(58.5,20.1,7),(59.6,19.7,4),(59.4,20.1,4),(60.7,20.1,8),
(61.2,19.7,2),(60.4,19.3,2),(63.5,19.5,2),(64,19,2),(62.3,19.1,0),(61.4,18.3,11),(61.5,18.9,3),(54.5,18.8,15),
(59.9,18.5,15),(50,18.5,8),(49.4,18,8),(49.7,18.2,4),(52.4,18.5,3),(52.8,18.1,0),(50.9,17.7,0),(52.9,17.6,4),
(51.2,17.3,4),(51.9,17.6,4),(46.3,17.3,4),(41.4,17.2,8),(44.1,17.2,7),(45.3,17.2,8),(40.5,16.8,4),(44.5,16.6,7),
(45.5,16.4,8),(42.4,16.3,0),(41.2,16.4,8),(43.4,16.4,2),(49.3,16.3,7),(50.9,16.5,0),(51.5,16.6,18),(51.8,15.9,15),
(48.5,16,8),(46,15.8,8),(43,15.8,0),(41.5,15.8,1),(45.3,15.6,0),(44.5,15.3,0),(46.4,15.5,4),(39.9,15.3,1),
(40.8,15.5,0),(48.1,15.2,8),(51.5,15.1,15),(51.6,14.7,4),(41.3,14.7,4),(50.4,14.5,4),(40.5,14.2,0),(47.7,14.3,1),
(49.4,14,18),(51.9,14,16),(45.8,13.9,18),(44.7,13.5,4),(47.9,13.6,1),(39.3,13.6,10),(41.1,13.5,16),(42.5,13.5,2),
(38.6,12.9,3),(40.4,12.8,16),(41.6,12.7,8),(40.4,12.4,8),(39.7,12.1,8),(41.8,12.1,0),(52.5,12.7,0),(53,12.5,16),
(41.4,11.3,13),(41,10.9,0),(42,11.4,14),(59.6,16,2),(60.8,15.8,4),(61.6,15.9,18),(62.5,16,4),(67.4,14.8,2),
(60.2,14.9,4),(59.2,14.4,11),(60.5,14.2,4),(62,13.9,18),(60,13.7,15),(60.6,13.2,15),(59.4,13.3,5),(59.8,12.6,5),
(61.8,12.8,11),(67.1,13.3,15),(66.4,13,11),(64.4,12.6,7),(64.3,11.8,7),(61.6,12.1,11),(60.2,11.6,3),(61.5,11,15),
(62.3,11.2,3),(63.2,11,2),(65.4,11.8,15),(67.5,11.6,17),(66.5,11.5,5),(66,11,15),(65.2,11.2,11),(62.7,10.4,7),
(65.7,10.4,11),(66.8,10.3,5),(64.3,9.7,15),(65.8,9.4,5),(67.2,9,17),(66.9,8.7,5),(44.9,10.8,3),(44.2,10,16),
(45.5,10.2,3),(46.3,10.2,16),(53.8,11,7),(53,11.1,16),(48.6,10.4,15),(51.1,10.2,2),(49.9,9.8,3),(49,9.8,18),
(50.6,9.3,16),(51.8,9.1,3),(51.2,9.4,11),(53.3,9.7,3),(54.7,10.3,11),(56.6,10.3,11),(55.6,9.9,4),(58.7,10.5,11),
(58,10.8,11),(57.4,9.9,18),(58.9,9.8,10),(58,10.3,17),(61,9.7,7),(60.2,9.8,2),(56.2,9.4,3),(58,9.3,3),
(46.7,9.2,10),(47.5,8.7,14),(48.6,8.5,16),(52.5,8.7,15),(49.5,8.3,4),(51.5,8,13),(47.5,7.9,8),(48.3,8.1,7),
(48.5,7.1,8),(56.7,8.7,7),(55.2,8.3,3),(56.5,8,16),(55.1,8,7),(54.2,7.7,11),(58.2,7.1,7),(56.7,7.2,3),
(55,6.7,3),(59.4,7,15),(60.6,7.2,18),(58.2,6.1,2),(58.8,5.8,2),(53.5,6,3),(55.2,5.6,8),(57,5.3,7),
(56.1,5.3,3),(56.3,4.8,7),(53.4,4,6),(55,4.4,4),(53.4,4.5,4),(63.3,7.3,12),(63.8,7.6,3),(64.9,7,11),
(66.6,6.8,17),(68.2,7,11),(68.6,6.1,17),(62.5,6.2,2),(63.1,6.2,5),(64.8,6.2,5),(67.9,6.3,11),(63,5.4,17),
(66.8,5.4,17),(65.7,5.1,5),(68.2,5.4,15),(68,5,15),(63.5,4.8,12),(59,3,17),(60,3.3,15),(47,3.5,8),
(50.1,3.7,2),(47,2.8,4),(49,3,4),(50.1,3,3),(51.6,3,18),(46.1,2.4,3),(50.4,2.2,17),(48,2,7),
]

regions = [far_left, upper_mid, center_up, lower_left, lower_mid, bottom, upper_right_mid, mid_right, lower_right, upper_right]

points = np.array([p for r in regions for p in r])
tsne_x = points[:, 0]
tsne_y = points[:, 1]
labels = points[:, 2].astype(int)

fig, ax = plt.subplots(figsize=(9.89, 7.9), dpi=100)
colors = plt.get_cmap("tab20")(labels)
ax.scatter(tsne_x, tsne_y, c=colors, s=40, edgecolors="white", linewidths=0.6)

ax.set_xlim(-82.1, 75.7)
ax.set_ylim(-36.8, 36.05)
ax.set_title("t-SNE of Mean feature  (Large Speech Model)")
ax.set_xlabel("t-SNE dim 1")
ax.set_ylabel("t-SNE dim 2")
fig.subplots_adjust(left=69/989, right=980/989, top=1-32/790, bottom=1-737/790)
plt.savefig("out.png", dpi=100)
